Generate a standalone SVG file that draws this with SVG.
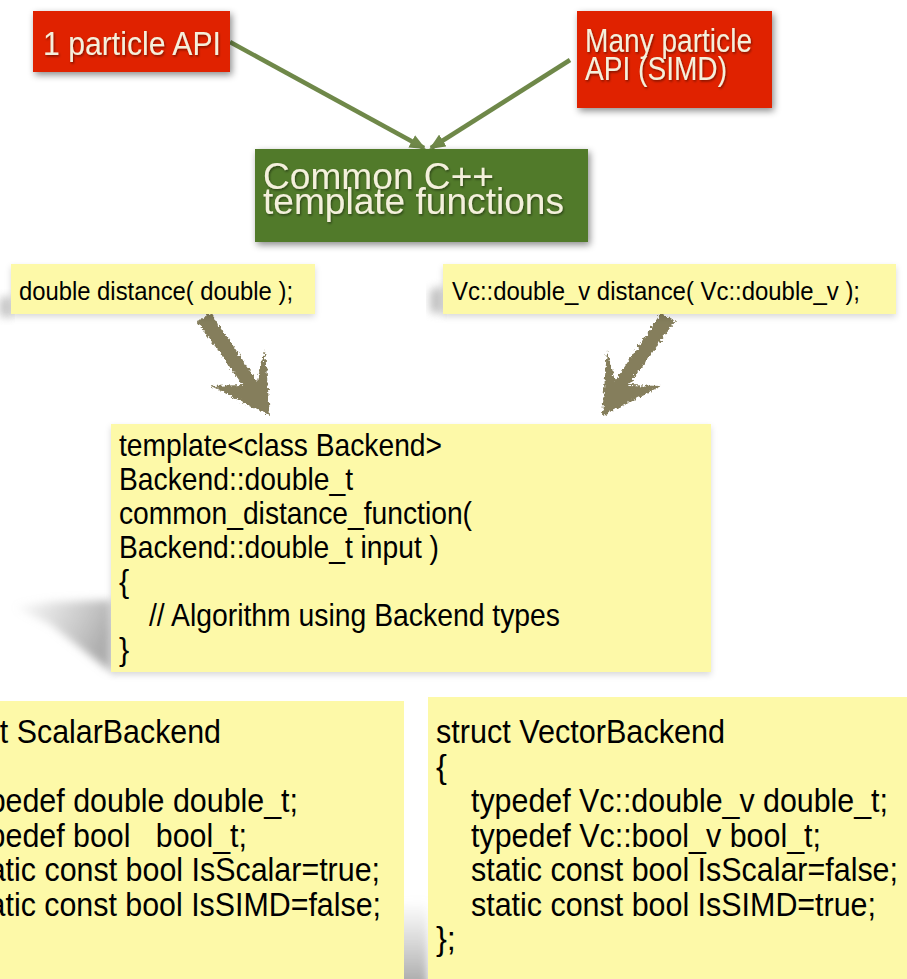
<svg xmlns="http://www.w3.org/2000/svg" width="907" height="979" viewBox="0 0 907 979">
<style>
.lbl{font-family:"Liberation Sans",Arial,sans-serif;fill:#f4f0dc}
.code{font-family:"Liberation Sans",Arial,sans-serif;fill:#000}
.red{fill:#e02400}
.green{fill:#517a2a}
.yel{fill:#fdf9a8}
.conn{stroke:#6f8849;stroke-width:4.5;fill:none}
.rough{fill:#857e5b}
</style>
<defs>
<filter id="sh" x="-20%" y="-30%" width="140%" height="170%">
<feDropShadow dx="2" dy="3" stdDeviation="3.5" flood-color="#000" flood-opacity="0.45"/>
</filter>
<filter id="shy" x="-10%" y="-30%" width="120%" height="170%">
<feDropShadow dx="0" dy="3" stdDeviation="3" flood-color="#000" flood-opacity="0.15"/>
</filter>
<filter id="tsh" x="-10%" y="-20%" width="120%" height="150%">
<feDropShadow dx="1" dy="1.5" stdDeviation="0.8" flood-color="#000" flood-opacity="0.45"/>
</filter>
<filter id="blur" x="-30%" y="-30%" width="160%" height="160%">
<feGaussianBlur stdDeviation="4"/>
</filter>
<filter id="rough" x="-20%" y="-20%" width="140%" height="140%">
<feTurbulence type="fractalNoise" baseFrequency="0.35" numOctaves="2" seed="3" result="n"/>
<feDisplacementMap in="SourceGraphic" in2="n" scale="6" xChannelSelector="R" yChannelSelector="G"/>
</filter>
<linearGradient id="wedge1" x1="0" y1="0" x2="1" y2="0.4">
<stop offset="0" stop-color="#aaa" stop-opacity="0"/>
<stop offset="0.6" stop-color="#aaa" stop-opacity="0.55"/>
<stop offset="1" stop-color="#999" stop-opacity="0.8"/>
</linearGradient>
<linearGradient id="wedge2" x1="0" y1="0" x2="0" y2="1">
<stop offset="0" stop-color="#aaa" stop-opacity="0"/>
<stop offset="1" stop-color="#999" stop-opacity="0.9"/>
</linearGradient>
<marker id="ah" markerWidth="16" markerHeight="14" refX="14" refY="7" orient="auto" markerUnits="userSpaceOnUse">
<path d="M0,0 L16,7 L0,14 z" fill="#6f8849"/>
</marker>
<clipPath id="clipS"><rect x="-20" y="701" width="424" height="300"/></clipPath>
</defs>

<rect width="907" height="979" fill="#fff"/>

<g id="shadows">
<polygon points="111,600 50,602 14,607 50,624 111,672" fill="url(#wedge1)" filter="url(#blur)"/>
<polygon points="385,905 428,900 428,990 385,990" fill="url(#wedge2)" filter="url(#blur)"/>
<polygon points="0,298 11,296 11,318 0,316" fill="#999" opacity="0.6" filter="url(#blur)"/>
<polygon points="430,290 443,286 443,314 430,312" fill="#999" opacity="0.6" filter="url(#blur)"/>
</g>

<g id="connectors">
<line class="conn" x1="230" y1="42" x2="424" y2="148" marker-end="url(#ah)"/>
<line class="conn" x1="570" y1="60" x2="431" y2="148" marker-end="url(#ah)"/>
<g filter="url(#rough)">
<path class="rough" d="M197,321 L211,313 L257,381 L265,350 L270,416 L211,386 L243,385 Z"/>
<path class="rough" d="M675,321 L661,313 L615,381 L607,350 L602,416 L661,386 L629,385 Z"/>
</g>
</g>

<g id="api1">
<rect class="red" x="33" y="11" width="197" height="61" filter="url(#sh)"/>
<text class="lbl" x="43" y="55" font-size="33" textLength="178" lengthAdjust="spacingAndGlyphs" filter="url(#tsh)">1 particle API</text>
</g>

<g id="api2">
<rect class="red" x="577" y="11" width="195" height="97" filter="url(#sh)"/>
<g filter="url(#tsh)">
<text class="lbl" x="585" y="52" font-size="33" textLength="167" lengthAdjust="spacingAndGlyphs">Many particle</text>
<text class="lbl" x="585" y="80" font-size="33" textLength="142" lengthAdjust="spacingAndGlyphs">API (SIMD)</text>
</g>
</g>

<g id="common">
<rect class="green" x="255" y="149" width="333" height="93" filter="url(#sh)"/>
<g filter="url(#tsh)">
<text class="lbl" x="263" y="189" font-size="36.5" textLength="231" lengthAdjust="spacingAndGlyphs">Common C++</text>
<text class="lbl" x="263" y="214" font-size="36.5" textLength="301" lengthAdjust="spacingAndGlyphs">template functions</text>
</g>
</g>

<g id="scalarSig">
<rect class="yel" x="11" y="264" width="304" height="50" filter="url(#shy)"/>
<text class="code" x="19" y="300" font-size="26" textLength="274" lengthAdjust="spacingAndGlyphs">double distance( double );</text>
</g>

<g id="vectorSig">
<rect class="yel" x="443" y="264" width="453" height="50" filter="url(#shy)"/>
<text class="code" x="452" y="300" font-size="26" textLength="408" lengthAdjust="spacingAndGlyphs">Vc::double_v distance( Vc::double_v );</text>
</g>

<g id="templateFn">
<rect class="yel" x="111" y="424" width="600" height="248" filter="url(#shy)"/>
<g font-size="30.5">
<text class="code" x="119" y="456" textLength="323" lengthAdjust="spacingAndGlyphs">template&lt;class Backend&gt;</text>
<text class="code" x="119" y="490" textLength="234" lengthAdjust="spacingAndGlyphs">Backend::double_t</text>
<text class="code" x="119" y="524" textLength="353" lengthAdjust="spacingAndGlyphs">common_distance_function(</text>
<text class="code" x="119" y="558" textLength="320" lengthAdjust="spacingAndGlyphs">Backend::double_t input )</text>
<text class="code" x="119" y="592">{</text>
<text class="code" x="149" y="626" textLength="411" lengthAdjust="spacingAndGlyphs">// Algorithm using Backend types</text>
<text class="code" x="119" y="660">}</text>
</g>
</g>

<g id="scalarBackend">
<rect class="yel" x="-20" y="701" width="424" height="300"/>
<g clip-path="url(#clipS)" font-size="32.5">
<text class="code" x="-66" y="743" textLength="287" lengthAdjust="spacingAndGlyphs">struct ScalarBackend</text>
<text class="code" x="-35" y="812" textLength="333" lengthAdjust="spacingAndGlyphs">typedef double double_t;</text>
<text class="code" x="-35" y="846.5" textLength="282" lengthAdjust="spacingAndGlyphs" xml:space="preserve">typedef bool   bool_t;</text>
<text class="code" x="-35" y="881" textLength="415" lengthAdjust="spacingAndGlyphs">static const bool IsScalar=true;</text>
<text class="code" x="-35" y="915.5" textLength="416" lengthAdjust="spacingAndGlyphs">static const bool IsSIMD=false;</text>
</g>
</g>

<g id="vectorBackend">
<rect class="yel" x="428" y="697" width="500" height="300"/>
<g font-size="32.5">
<text class="code" x="436" y="743" textLength="289" lengthAdjust="spacingAndGlyphs">struct VectorBackend</text>
<text class="code" x="436" y="777.5">{</text>
<text class="code" x="471" y="812" textLength="417" lengthAdjust="spacingAndGlyphs">typedef Vc::double_v double_t;</text>
<text class="code" x="471" y="846.5" textLength="350" lengthAdjust="spacingAndGlyphs">typedef Vc::bool_v bool_t;</text>
<text class="code" x="471" y="881" textLength="427" lengthAdjust="spacingAndGlyphs">static const bool IsScalar=false;</text>
<text class="code" x="471" y="915.5" textLength="405" lengthAdjust="spacingAndGlyphs">static const bool IsSIMD=true;</text>
<text class="code" x="436" y="950">};</text>
</g>
</g>
</svg>
